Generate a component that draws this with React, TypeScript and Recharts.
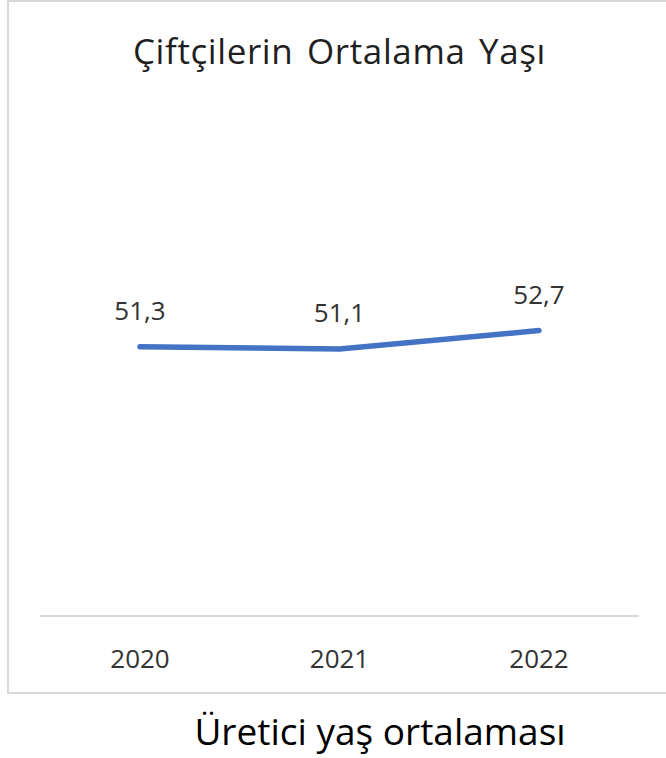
import { LabelList, Line, LineChart, XAxis, YAxis } from 'recharts'

const years = ['2020', '2021', '2022']
const averageAge = [51.3, 51.1, 52.7]
const title = 'Çiftçilerin Ortalama Yaşı'
const caption = 'Üretici yaş ortalaması'

const data = years.map((year, i) => ({ year, age: averageAge[i] }))

const font = '"Open Sans", "Noto Sans", sans-serif'

export default function App() {
  return (
    <div style={{ position: 'absolute', left: 0, top: 0, width: 666, height: 758, overflow: 'hidden', background: '#fff', fontFamily: font }}>
      <div
        style={{
          position: 'absolute',
          left: 7,
          top: 0,
          width: 690,
          height: 690,
          border: '2px solid #d9d9d9',
        }}
      />
      <div
        style={{
          position: 'absolute',
          left: 20,
          width: 639,
          top: 33,
          textAlign: 'center',
          fontSize: 35,
          letterSpacing: 0.6,
          wordSpacing: 4,
          lineHeight: 1,
          color: '#1f1f1f',
        }}
      >
        {title}
      </div>
      <div style={{ position: 'absolute', left: 0, top: 0 }}>
        <LineChart width={666} height={700} data={data} margin={{ top: 0, right: 27, bottom: 24, left: 40 }}>
          <XAxis
            dataKey="year"
            height={60}
            padding={{ left: 100, right: 100 }}
            axisLine={{ stroke: '#d9d9d9', strokeWidth: 2 }}
            tickLine={false}
            tickSize={0}
            tickMargin={34}
            tick={{ fill: '#333333', fontSize: 26, fontFamily: font }}
          />
          <YAxis hide type="number" domain={[28, 81.3]} />
          <Line
            type="linear"
            dataKey="age"
            stroke="#4472c4"
            strokeWidth={5.5}
            strokeLinecap="round"
            dot={false}
            isAnimationActive={false}
          >
            <LabelList
              dataKey="age"
              position="top"
              offset={27}
              fill="#333333"
              fontSize={26}
              fontFamily={font}
              formatter={(v: number) => v.toFixed(1).replace('.', ',')}
            />
          </Line>
        </LineChart>
      </div>
      <div
        style={{
          position: 'absolute',
          left: 180,
          width: 400,
          top: 712,
          textAlign: 'center',
          fontSize: 37,
          lineHeight: 1,
          color: '#000',
        }}
      >
        {caption}
      </div>
    </div>
  )
}
